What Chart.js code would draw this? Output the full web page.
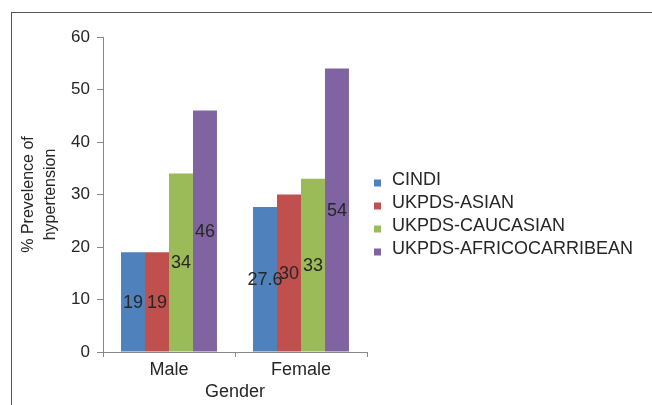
<!DOCTYPE html>
<html>
<head>
<meta charset="utf-8">
<script src="https://cdn.jsdelivr.net/npm/chart.js@4"></script>
<style>
  html, body { margin: 0; padding: 0; background: #fff; }
  #wrap { position: relative; width: 652px; height: 405px; }
  #frame { position: absolute; left: 11px; top: 12px; right: 0; bottom: 0;
           border-left: 1px solid #555; border-top: 1px solid #555; pointer-events: none; }
</style>
</head>
<body>
<div id="wrap">
  <canvas id="myChart" width="652" height="405"></canvas>
  <div id="frame"></div>
</div>
<script>
// chart data
const genders = ['Male', 'Female'];
const seriesNames = ['CINDI', 'UKPDS-ASIAN', 'UKPDS-CAUCASIAN', 'UKPDS-AFRICOCARRIBEAN'];
const cindi = [19, 27.6];
const ukpdsAsian = [19, 30];
const ukpdsCaucasian = [34, 33];
const ukpdsAfricoCarribean = [46, 54];
const yTicks = [0, 10, 20, 30, 40, 50, 60];

const colors = ['#4f81bd', '#c0504d', '#9bbb59', '#8064a2'];
const FONT = "'Liberation Sans', Arial, sans-serif";
const TEXT = '#262626';

// value written in the middle of each bar
const barLabels = {
  id: 'barLabels',
  afterDatasetsDraw(chart) {
    const ctx = chart.ctx;
    ctx.save();
    ctx.font = '18px ' + FONT;
    ctx.fillStyle = TEXT;
    ctx.textAlign = 'center';
    ctx.textBaseline = 'middle';
    chart.data.datasets.forEach((ds, i) => {
      chart.getDatasetMeta(i).data.forEach((bar, j) => {
        ctx.fillText(String(ds.data[j]), bar.x, (bar.y + bar.base) / 2 + 1);
      });
    });
    ctx.restore();
  }
};

// legend on the right, drawn by hand
const sideLegend = {
  id: 'sideLegend',
  afterDraw(chart) {
    const ctx = chart.ctx;
    ctx.save();
    ctx.font = '18px ' + FONT;
    ctx.textBaseline = 'middle';
    chart.data.datasets.forEach((ds, i) => {
      const y = 180.5 + i * 23;
      ctx.fillStyle = ds.backgroundColor;
      ctx.fillRect(374, y - 1, 7, 7);
      ctx.fillStyle = TEXT;
      ctx.fillText(ds.label, 392, y);
    });
    ctx.restore();
  }
};

const allSeries = [cindi, ukpdsAsian, ukpdsCaucasian, ukpdsAfricoCarribean];

new Chart(document.getElementById('myChart'), {
  type: 'bar',
  data: {
    labels: genders,
    datasets: allSeries.map((vals, i) => ({
      label: seriesNames[i],
      data: vals,
      backgroundColor: colors[i],
      borderWidth: 0,
      barPercentage: 1,
      categoryPercentage: 0.727
    }))
  },
  options: {
    responsive: false,
    animation: false,
    layout: { padding: { left: 0, right: 285, top: 37, bottom: 0 } },
    plugins: { legend: { display: false }, tooltip: { enabled: false } },
    scales: {
      x: {
        afterFit: (s) => { s.height = 53; },
        grid: { drawOnChartArea: false, drawTicks: true, tickLength: 5, color: '#888', offset: true },
        border: { display: true, color: '#888' },
        ticks: { color: TEXT, font: { family: FONT, size: 18 }, padding: 2 },
        title: { display: true, text: 'Gender', color: TEXT, font: { family: FONT, size: 18 }, padding: { top: 0, bottom: 2 } }
      },
      y: {
        min: 0,
        max: 60,
        afterFit: (s) => { s.width = 103; },
        afterBuildTicks: (s) => { s.ticks = yTicks.map(v => ({ value: v })); },
        grid: { drawOnChartArea: false, drawTicks: true, tickLength: 6, color: '#888' },
        border: { display: true, color: '#888' },
        ticks: { color: TEXT, font: { family: FONT, size: 17 }, padding: 7 },
        title: {
          display: true,
          text: ['% Prevelence of', 'hypertension'],
          color: TEXT,
          font: { family: FONT, size: 16, lineHeight: 1.35 },
          padding: { top: 18, bottom: 0 }
        }
      }
    }
  },
  plugins: [barLabels, sideLegend]
});
</script>
</body>
</html>
